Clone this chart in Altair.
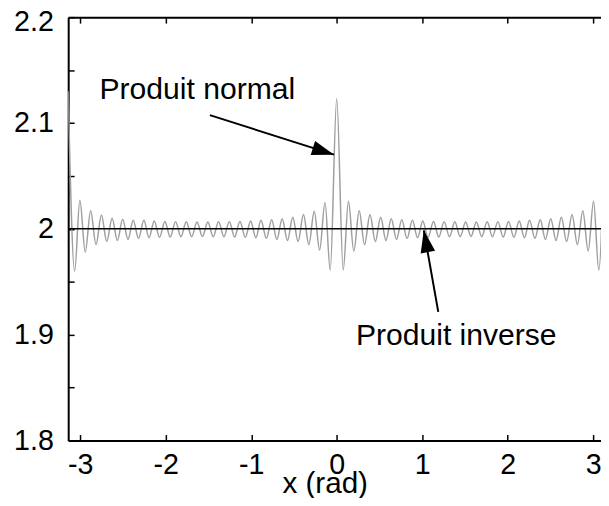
import altair as alt
import pandas as pd

# ---- data ----
# extrema of the "Produit normal" curve (x in rad), left half then right half
normal_x_neg = [-3.142, -3.066, -3.005, -2.942, -2.879, -2.816, -2.753, -2.690, -2.628, -2.566,
                -2.504, -2.442, -2.381, -2.319, -2.256, -2.196, -2.135, -2.073, -2.010, -1.948,
                -1.885, -1.823, -1.760, -1.697, -1.634, -1.571, -1.508, -1.445, -1.382, -1.319,
                -1.257, -1.194, -1.132, -1.069, -1.007, -0.946, -0.886, -0.823, -0.761, -0.700,
                -0.638, -0.576, -0.514, -0.452, -0.389, -0.326, -0.263, -0.200, -0.137, -0.076]
normal_y_neg = [2.130, 1.960, 2.027, 1.978, 2.017, 1.985, 2.013, 1.988, 2.010, 1.989,
                2.009, 1.990, 2.008, 1.991, 2.008, 1.9915, 2.0075, 1.992, 2.007, 1.9922,
                2.0068, 1.9925, 2.0066, 1.9926, 2.0065, 1.9927, 2.0065, 1.9926, 2.0066, 1.9925,
                2.0068, 1.9922, 2.007, 1.992, 2.0075, 1.9915, 2.008, 1.991, 2.0085, 1.990,
                2.0095, 1.989, 2.011, 1.988, 2.0135, 1.985, 2.0166, 1.980, 2.025, 1.961]
normal_x_pos = [0.000, 0.076, 0.137, 0.200, 0.263, 0.326, 0.389, 0.452, 0.514, 0.576,
                0.638, 0.700, 0.761, 0.823, 0.886, 0.946, 1.007, 1.069, 1.132, 1.194,
                1.257, 1.319, 1.382, 1.445, 1.508, 1.571, 1.634, 1.697, 1.760, 1.823,
                1.885, 1.948, 2.010, 2.073, 2.135, 2.196, 2.256, 2.319, 2.381, 2.442,
                2.504, 2.566, 2.628, 2.690, 2.753, 2.816, 2.879, 2.942, 3.005, 3.066, 3.142]
normal_y_pos = [2.123, 1.961, 2.026, 1.979, 2.017, 1.985, 2.0135, 1.988, 2.011, 1.989,
                2.0095, 1.990, 2.0085, 1.991, 2.008, 1.9915, 2.0075, 1.992, 2.007, 1.9922,
                2.0068, 1.9925, 2.0066, 1.9926, 2.0065, 1.9927, 2.0065, 1.9926, 2.0066, 1.9925,
                2.0068, 1.9922, 2.007, 1.992, 2.0075, 1.9915, 2.008, 1.991, 2.0085, 1.990,
                2.0095, 1.989, 2.011, 1.988, 2.0135, 1.985, 2.017, 1.979, 2.026, 1.961, 2.130]

inverse_x = [-3.1416, 3.1416]
inverse_y = [2.0, 2.0]

x_ticks = [-3, -2, -1, 0, 1, 2, 3]
y_labels = [1.8, 1.9, 2.0, 2.1, 2.2]
y_ticks = [1.8, 1.85, 1.9, 1.95, 2.0, 2.05, 2.1, 2.15, 2.2]

label_text = ["Produit normal", "Produit inverse"]
label_x = [-2.775, 0.225]
label_y = [2.1223, 1.8904]

arrow_tail_x = [-1.484, 1.188]
arrow_tail_y = [2.1074, 1.9215]
arrow_tip_x = [-0.031, 1.019]
arrow_tip_y = [2.0701, 1.9986]
arrow_angle = [107.5, 349.5]

# ---- tables ----
normal_df = pd.DataFrame({"x": normal_x_neg + normal_x_pos, "y": normal_y_neg + normal_y_pos})
inverse_df = pd.DataFrame({"x": inverse_x, "y": inverse_y})
label_df = pd.DataFrame({"x": label_x, "y": label_y, "t": label_text})
arrow_df = pd.DataFrame({"x": arrow_tail_x, "y": arrow_tail_y,
                         "x2": arrow_tip_x, "y2": arrow_tip_y, "a": arrow_angle})

FONT = "Liberation Sans"
xs = alt.Scale(domain=[-3.1416, 3.092], nice=False, zero=False)
ys = alt.Scale(domain=[1.8, 2.2], nice=False, zero=False)

x_main = alt.Axis(orient="bottom", values=x_ticks, ticks=False, tickSize=0, domain=True,
                  domainColor="black", domainWidth=2, labels=True, labelExpr="'' + datum.value",
                  labelPadding=10, labelFont=FONT, labelFontSize=29, labelColor="black",
                  grid=False, title="x (rad)", titleFont=FONT, titleFontSize=30,
                  titleFontWeight="normal", titleColor="black", titleX=260, titleY=53,
                  titleAlign="center", titleBaseline="alphabetic")
y_main = alt.Axis(orient="left", values=y_labels, ticks=False, tickSize=0, domain=True,
                  domainColor="black", domainWidth=2, labels=True, labelExpr="'' + datum.value",
                  labelPadding=15, labelFont=FONT, labelFontSize=29, labelColor="black",
                  labelOffset={"condition": {"test": "datum.value > 2.15", "value": 5}, "value": 0},
                  grid=False, title=None)
x_bottom_ticks = alt.Axis(orient="bottom", offset=-6, values=x_ticks, ticks=True, tickSize=6,
                          tickColor="black", tickWidth=1.5, domain=False, labels=False,
                          grid=False, title=None)
y_left_ticks = alt.Axis(orient="left", offset=-6, values=y_ticks, ticks=True, tickSize=6,
                        tickColor="black", tickWidth=1.5, domain=False, labels=False,
                        grid=False, title=None)
x_top = alt.Axis(orient="top", values=x_ticks, ticks=False, tickSize=0, domain=True,
                 domainColor="black", domainWidth=2, labels=False, grid=False, title=None)
x_top_ticks = alt.Axis(orient="top", offset=-6, values=x_ticks, ticks=True, tickSize=6,
                       tickColor="black", tickWidth=1.5, domain=False, labels=False,
                       grid=False, title=None)

normal = alt.Chart(normal_df).mark_line(
    color="#9f9f9f", strokeWidth=1.5, interpolate="monotone", clip=True
).encode(
    x=alt.X("x:Q", scale=xs, axis=x_main),
    y=alt.Y("y:Q", scale=ys, axis=y_main),
)

inverse = alt.Chart(inverse_df).mark_line(color="black", strokeWidth=1.5, clip=True).encode(
    x=alt.X("x:Q", scale=xs, axis=x_bottom_ticks),
    y=alt.Y("y:Q", scale=ys, axis=y_left_ticks),
)

shafts = alt.Chart(arrow_df).mark_rule(color="black", strokeWidth=2).encode(
    x=alt.X("x:Q", scale=xs, axis=x_top),
    y=alt.Y("y:Q", scale=ys, axis=None),
    x2="x2:Q",
    y2="y2:Q",
)

heads = alt.Chart(arrow_df).mark_point(
    shape="M0,0 L-0.33,1 L0.33,1 Z", size=2025, filled=True, color="black",
    opacity=1, strokeWidth=0
).encode(
    x=alt.X("x2:Q", scale=xs, axis=x_top_ticks),
    y=alt.Y("y2:Q", scale=ys, axis=None),
    angle=alt.Angle("a:Q", scale=None),
)

labels = alt.Chart(label_df).mark_text(
    align="left", baseline="alphabetic", font=FONT, fontSize=30.5, color="black"
).encode(
    x=alt.X("x:Q", scale=xs, axis=None),
    y=alt.Y("y:Q", scale=ys, axis=None),
    text="t:N",
)

chart = alt.layer(normal, inverse, shafts, heads, labels).resolve_axis(
    x="independent", y="independent"
).properties(
    width=540,
    height=429,
    autosize=alt.AutoSizeParams(type="none"),
    padding={"left": 61, "top": 6, "right": 0, "bottom": 55},
).configure_view(stroke=None).configure(background="white")

chart.save("out.html", embed_options={"renderer": "svg", "actions": False})
